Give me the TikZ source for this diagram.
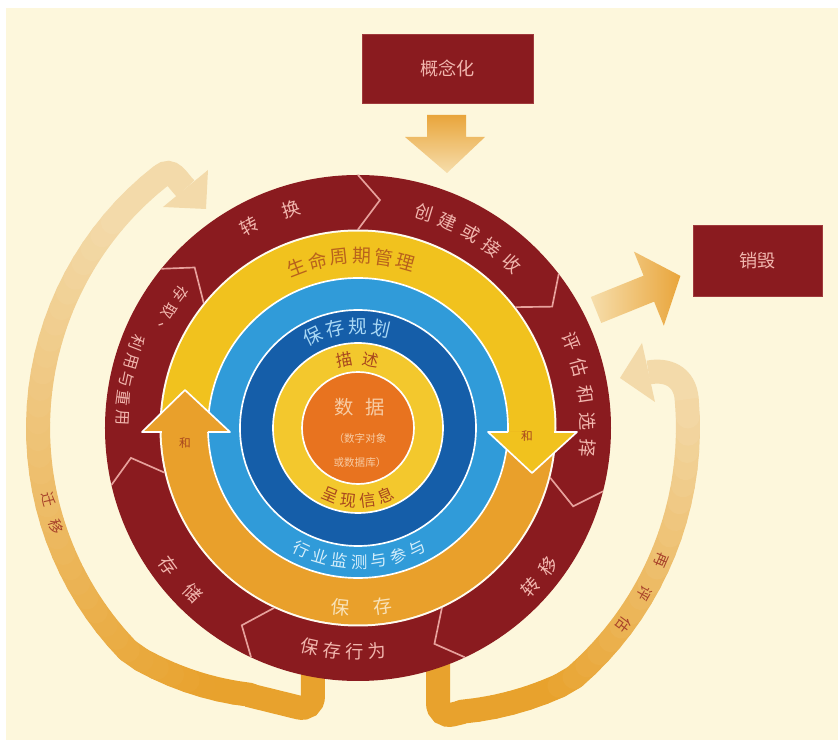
\documentclass[tikz,border=0pt]{standalone}
\usepackage{fontspec}
\setmainfont{Noto Sans CJK SC}
\definecolor{bgc}{HTML}{FDF7DC}
\definecolor{dred}{HTML}{8A1B1F}
\definecolor{chev}{HTML}{E7A19C}
\definecolor{pinktxt}{HTML}{F1B6AE}
\definecolor{ylw}{HTML}{F1C21E}
\definecolor{org}{HTML}{E9A02B}
\definecolor{lblue}{HTML}{309BD9}
\definecolor{dblue}{HTML}{155EA9}
\definecolor{iylw}{HTML}{F3C82D}
\definecolor{corec}{HTML}{E8731F}
\definecolor{bandorg}{HTML}{E8A22D}
\definecolor{bandpale}{HTML}{F3DAAA}
\definecolor{arroworg}{HTML}{E9A53B}
\definecolor{arrowpale}{HTML}{F6DEAC}
\definecolor{brn}{HTML}{B8621C}
\definecolor{brn2}{HTML}{A8471E}
\definecolor{lbtxt}{HTML}{A9D8F5}
\definecolor{lbtxt2}{HTML}{D6EFFB}
\definecolor{coretxt}{HTML}{F7CCA4}
\definecolor{paletxt}{HTML}{F8E2B8}
\definecolor{bandtxt}{HTML}{A8422A}
\newcommand\fs[1]{\fontsize{#1}{#1}\selectfont}
\newcommand\toptext[4]{%
  \foreach \a/\c [count=\i] in {#2}{\pgfmathsetmacro\rr{\a-90}\node[#3, rotate=\rr] (#4\i) at (\a:#1) {\c};}}
\newcommand\bottext[4]{%
  \foreach \a/\c [count=\i] in {#2}{\pgfmathsetmacro\rr{\a+90}\node[#3, rotate=\rr] (#4\i) at (\a:#1) {\c};}}
\tikzset{
  chr/.style={inner sep=0pt, anchor=center},
  redtxt/.style={chr, text=pinktxt, font=\fs{15.5}},
  box/.style={fill=dred, draw=dred!80!pinktxt, line width=0.5pt, text=pinktxt, font=\fs{15.5}, inner sep=0pt},
  band/.style={line width=0.72cm},
  ringline/.style={white, line width=0.05cm},
  chevline/.style={chev, line width=0.05cm, line join=miter},
  bandlabel/.style={chr, text=bandtxt, font=\fs{12.5}},
}
\begin{document}
\begin{tikzpicture}[x=0.03cm,y=0.03cm]
\useasboundingbox (-358,-312) rectangle (480,428);
\fill[white] (-358,-312) rectangle (480,428);
\fill[bgc] (-352,-312) rectangle (480,420);

% ---- left band (migrate)
\draw[bandorg, band, rounded corners=0.45cm] (-45,-220) -- (-45,-283) -- (-110,-267);
\foreach \a in {248,245,...,131}{
  \pgfmathsetmacro\ra{\a>225 ? 320-(\a-225)*1.4 : 320}
  \pgfmathsetmacro\b{\a-3}
  \pgfmathsetmacro\rb{\b>225 ? 320-(\b-225)*1.4 : 320}
  \pgfmathtruncatemacro\p{min(100,max(0,240-\a))}
  \draw[bandpale!\p!bandorg, band, line cap=round] (\a:\ra) -- (\b:\rb);
}
\draw[bandpale, band] (128:320) .. controls +(38:14) and +(135:12) .. (-172.5,239.5);
\fill[bandpale] (-150,258) -- (-152,219) -- (-195,221) -- cycle;

% ---- right band (reappraise)
\draw[bandorg, band, rounded corners=0.45cm] (80,-220) -- (80,-290) -- (105,-284);
\foreach \a in {-70,-67,...,2}{
  \pgfmathsetmacro\ra{\a<-50 ? 330+(\a+50)*1.4 : 330}
  \pgfmathsetmacro\b{\a+3}
  \pgfmathsetmacro\rb{\b<-50 ? 330+(\b+50)*1.4 : 330}
  \pgfmathtruncatemacro\p{min(100,max(0,(\a+55)*100/60))}
  \draw[bandpale!\p!bandorg, band, line cap=round] (\a:\ra) -- (\b:\rb);
}
\draw[bandpale, band] (5:330) .. controls +(95:24) and +(11:18) .. (290.5,55.5);
\fill[bandpale] (284,85) -- (262,50) -- (297,26) -- cycle;

\bottext{318}{193/迁,198/移}{bandlabel}{mig}
\toptext{331}{-23.5/再,-30/评,-36.5/估}{bandlabel}{rea}

% ---- rings
\fill[dred] (0,0) circle (253);
\fill[white!60!bgc] (0,0) circle (198.5);
\fill[ylw] (181.2:196.5) arc[start angle=181.2, end angle=-1.2, radius=196.5]
  -- (-1.5:150) arc[start angle=-1.5, end angle=181.5, radius=150] -- cycle;
\fill[org] (-1.2:196.5) arc[start angle=-1.2, end angle=-178.8, radius=196.5]
  -- (-178.5:150) arc[start angle=-178.5, end angle=-1.5, radius=150] -- cycle;
\fill[lblue] (0,0) circle (150);
\draw[ringline] (0,0) circle (150);
\fill[dblue] (0,0) circle (118);
\draw[ringline] (0,0) circle (118);
\fill[iylw] (0,0) circle (85);
\draw[ringline] (0,0) circle (85);
\fill[corec] (0,0) circle (56);
\draw[ringline] (0,0) circle (56);

% arrow heads of the lifecycle rings
\fill[org] (-216,-4) -- (-173,38) -- (-128,-4) -- cycle;
\draw[ringline, line join=round] (-196,-4) -- (-216,-4) -- (-173,38) -- (-128,-4) -- (-150,-4);
\fill[ylw] (130,-4) -- (174,-45) -- (219,-4) -- cycle;
\draw[ringline, line join=round] (150,-4) -- (130,-4) -- (174,-45) -- (219,-4) -- (196,-4);

% chevron dividers
\foreach \t in {90,37.5,345.5,295,245,193,141}{
  \draw[chevline] (\t:253) -- (\t-5.5:229) -- (\t:198.5);
}

% ---- boxes and big arrows
\node[box, minimum width=5.13cm, minimum height=2.07cm] (concept) at (89.5,359.5) {概念化};
\node[box, minimum width=3.87cm, minimum height=2.13cm] (dispose) at (399.5,167.5) {销毁};
\shade[top color=arroworg, bottom color=arrowpale]
  (69,313) -- (108,313) -- (108,291) -- (127,291) -- (89,255) -- (47,291) -- (69,291) -- cycle;
\begin{scope}[shift={(238,118)}, rotate=22]
\shade[left color=arrowpale, right color=arroworg]
  (0,-14) -- (57,-14) -- (57,-40) -- (91,0) -- (57,40) -- (57,14) -- (0,14) -- cycle;
\end{scope}

% ---- outer ring labels
\toptext{229}{118.4/转,107.1/换}{redtxt}{tr}
\toptext{225}{73/创,66.5/建,60/或,53.5/接,47/收}{redtxt}{cr}
\toptext{230}{22/评,15.25/估,8.5/和,1.75/选,-5/择}{redtxt}{ev}
\bottext{235}{-42.7/转,-36/移}{redtxt}{ig}
\bottext{224}{257.7/保,263.4/存,269.2/行,274.9/为}{redtxt}{pa}
\bottext{234}{216/存,225/储}{redtxt}{st}
\bottext{222}{143/存,148.2/取,153.4/、}{redtxt, font=\fs{13}}{ac}
\bottext{236}{159/利,163.6/用,168.2/与,172.8/重,177.4/用}{redtxt, font=\fs{13.5}}{us}

% ---- inner labels
\toptext{172}{111/生,103.6/命,96.2/周,88.8/期,81.4/管,74/理}{chr, text=brn, font=\fs{16}}{lc}
\bottext{180}{264.3/保,278/存}{chr, text=paletxt, font=\fs{16}}{pr}
\node[chr, text=brn2, font=\fs{10}] (and1) at (-173,-15) {和};
\node[chr, text=brn2, font=\fs{10}] (and2) at (169,-8) {和};
\bottext{134}{245/行,253.5/业,262/监,270.5/测,279/与,287.5/参,296/与}{chr, text=lbtxt2, font=\fs{14}}{cw}
\toptext{102}{116/保,103/存,90/规,77/划}{chr, text=lbtxt, font=\fs{16}}{pp}
\toptext{69}{101/描,79/述}{chr, text=brn2, font=\fs{14}}{de}
\bottext{73}{247.5/呈,262.5/现,277.5/信,292.5/息}{chr, text=brn2, font=\fs{14}}{ri}
\node[chr, text=coretxt, font=\fs{16.5}] (data) at (2,21) {数\hspace{0.6em}据};
\node[chr, text=coretxt, font=\fs{9}] (data2) at (2,-10) {（数字对象};
\node[chr, text=coretxt, font=\fs{9}] (data3) at (2,-34) {或数据库）};
\end{tikzpicture}
\end{document}
